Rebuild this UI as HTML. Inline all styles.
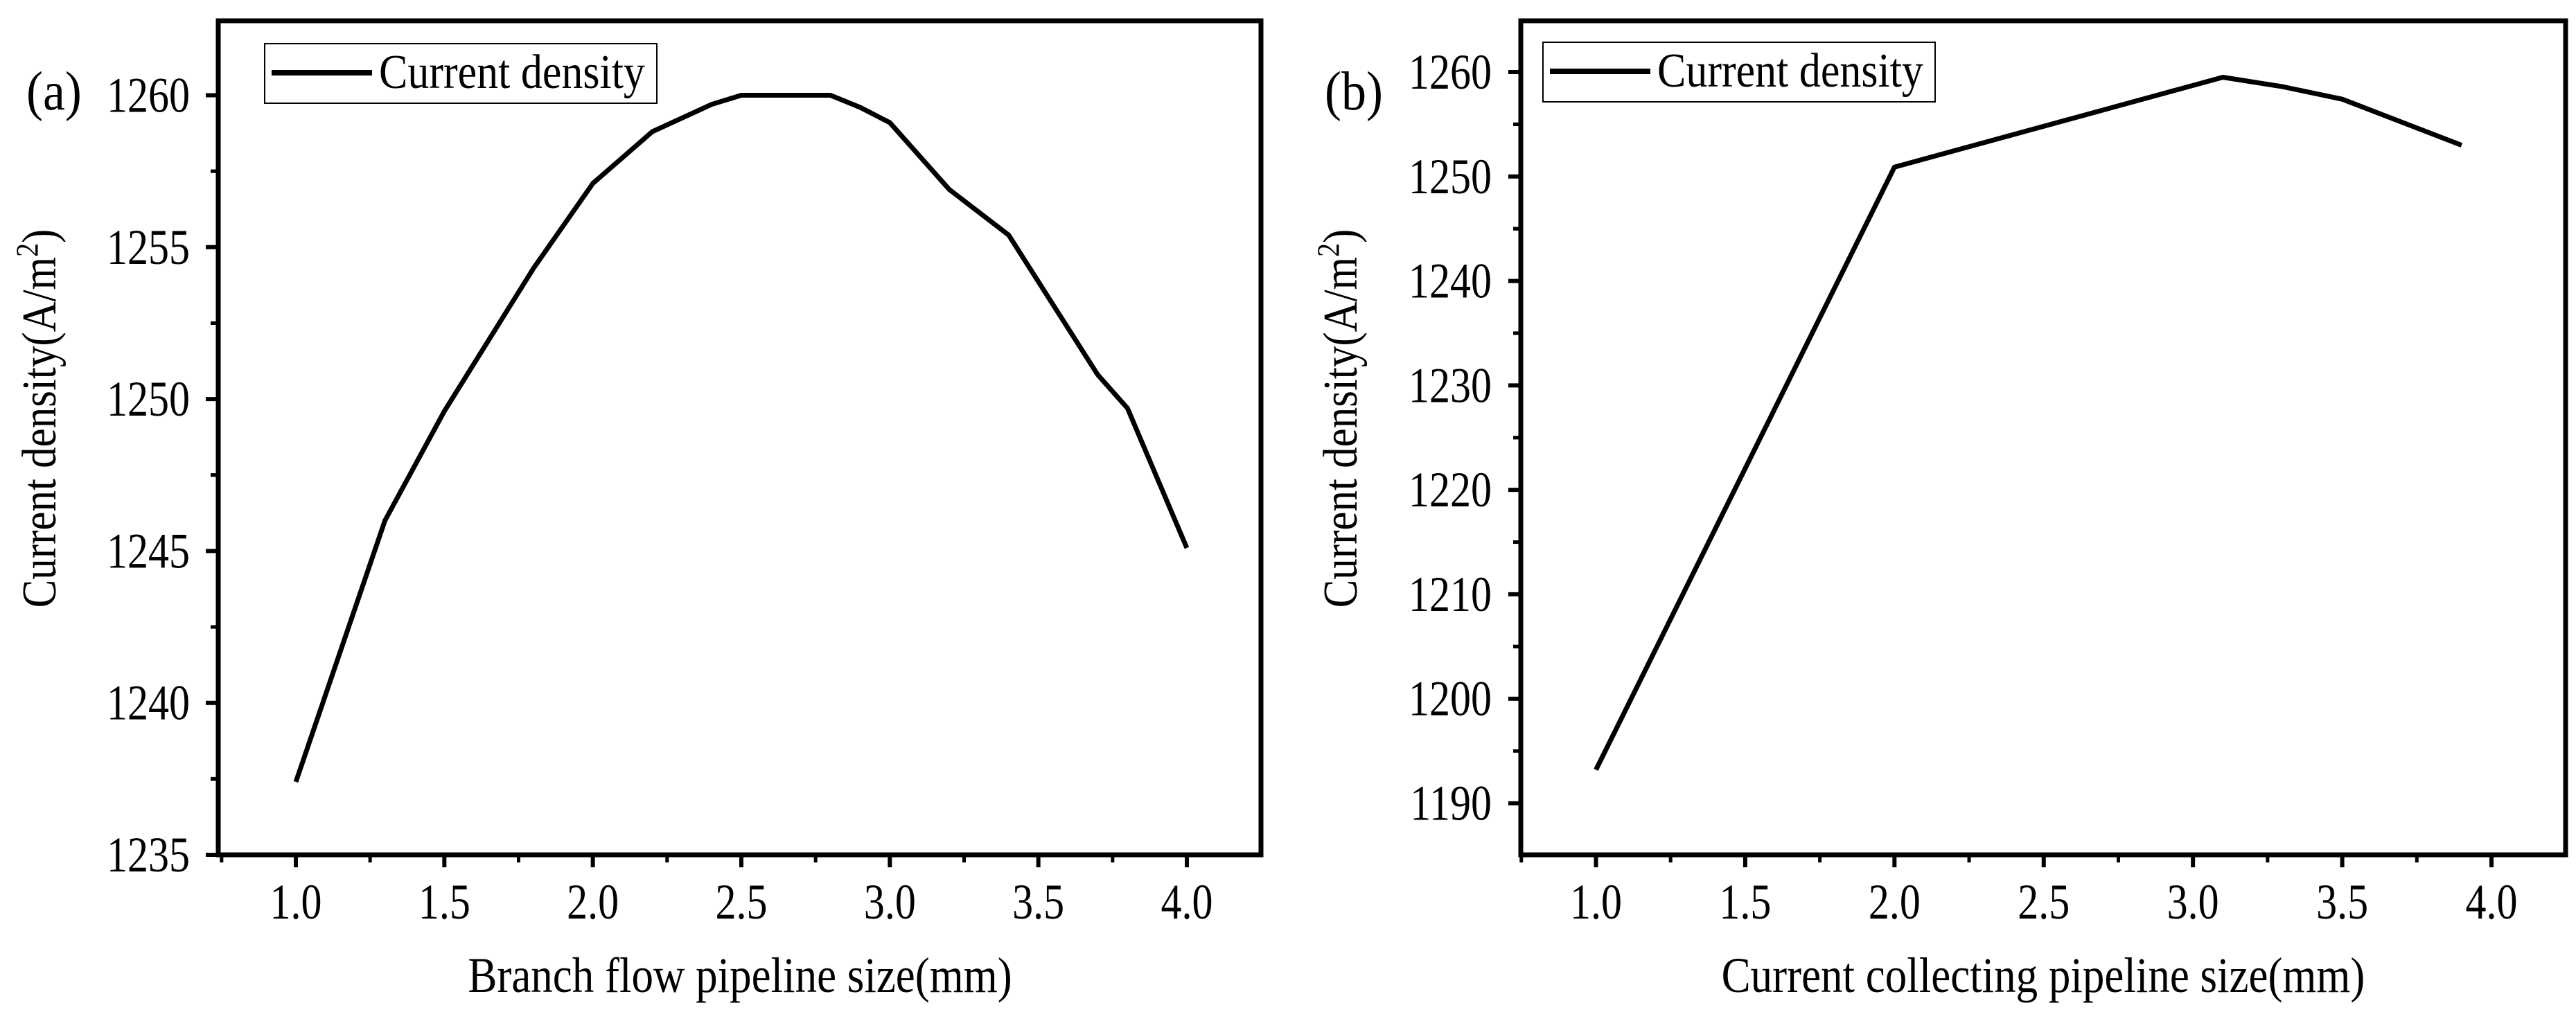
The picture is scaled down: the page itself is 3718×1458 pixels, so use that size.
<!DOCTYPE html>
<html><head><meta charset="utf-8">
<style>
html,body{margin:0;padding:0;background:#fff;}
svg{display:block;}
text{font-family:"Liberation Serif",serif;fill:#000;}
</style></head>
<body>
<svg id="fig" width="3718" height="1458" viewBox="0 0 3718 1458" xmlns="http://www.w3.org/2000/svg"></svg>
<script>
const aCategories = [1.0,1.3,1.5,1.8,2.0,2.2,2.4,2.5,2.8,2.9,3.0,3.2,3.4,3.7,3.8,4.0];
const aValues = [1237.4,1246.0,1249.6,1254.3,1257.1,1258.8,1259.7,1260.0,1260.0,1259.6,1259.1,1256.9,1255.4,1250.8,1249.7,1245.1];
const aYTicks = [1235,1240,1245,1250,1255,1260];
const bCategories = [1.0,2.0,3.1,3.3,3.5,3.9];
const bValues = [1193.2,1250.9,1259.5,1258.6,1257.4,1253.0];
const bYTicks = [1190,1200,1210,1220,1230,1240,1250,1260];
const xTicks = [1.0,1.5,2.0,2.5,3.0,3.5,4.0];

const NS = "http://www.w3.org/2000/svg";
const svg = document.getElementById('fig');
function mk(tag, attrs, parent){
  const e = document.createElementNS(NS, tag);
  for (const k in attrs) e.setAttribute(k, attrs[k]);
  (parent||svg).appendChild(e);
  return e;
}
function txt(parent, x, y, size, sy, anchor, extra){
  const a = {x:0, y:0, 'font-size':size, 'text-anchor':anchor, transform:`translate(${x},${y}) ${extra||''} scale(1,${sy})`};
  return mk('text', a, parent);
}

function panel(cfg){
  const g = mk('g', {});
  
  
  const xs = v => cfg.x1px + (v - 1.0) / 3.0 * (cfg.x4px - cfg.x1px);
  const ys = v => cfg.yTopTickPx + (cfg.yTopTick - v) / (cfg.yTopTick - cfg.yBotTick) * (cfg.yBotTickPx - cfg.yTopTickPx);
  let d = '';
  cfg.cats.forEach((c,i)=>{ d += (i?'L':'M') + xs(c).toFixed(1) + ' ' + ys(cfg.vals[i]).toFixed(1) + ' '; });
  const line = mk('path', {d:d, fill:'none', stroke:'#000', 'stroke-width':7, 'stroke-linejoin':'round'}, g);
  
  
  const fr = mk('rect', {x:cfg.L, y:cfg.T, width:cfg.R-cfg.L, height:cfg.B-cfg.T, fill:'none', stroke:'#000', 'stroke-width':7}, g);
  
  
  const half = (cfg.x4px - cfg.x1px) / 12;
  xTicks.forEach((t,i)=>{
    const x = xs(t);
    mk('line', {x1:x, x2:x, y1:cfg.B, y2:cfg.B+18, stroke:'#000','stroke-width':6}, g);
    const lab = txt(g, x, cfg.B+92, 60, 1.2, 'middle');
    lab.textContent = t.toFixed(1);
    
    
    const mx = x - half;
    if (mx > cfg.L) mk('line', {x1:mx, x2:mx, y1:cfg.B, y2:cfg.B+11, stroke:'#000','stroke-width':5}, g);
  });
  const mx2 = cfg.x4px + half; if (mx2 < cfg.R) mk('line', {x1:mx2, x2:mx2, y1:cfg.B, y2:cfg.B+11, stroke:'#000','stroke-width':5}, g);
  const step = cfg.yTicks[1]-cfg.yTicks[0];
  cfg.yTicks.forEach(t=>{
    const y = ys(t);
    mk('line', {x1:cfg.L-18, x2:cfg.L, y1:y, y2:y, stroke:'#000','stroke-width':6}, g);
    const lab = txt(g, cfg.labelRight, y+24, 60, 1.2, 'end');
    lab.textContent = t;
    
    
    [t - step/2, t + step/2].forEach(m=>{
      const my = ys(m);
      if (my > cfg.T + 4 && my < cfg.B - 4) mk('line', {x1:cfg.L-11, x2:cfg.L, y1:my, y2:my, stroke:'#000','stroke-width':5}, g);
    });
  });
  const xt = txt(g, cfg.xTitleX, 1432, 63, 1.15, 'middle');
  xt.textContent = cfg.xTitle;
  
  
  const yt = mk('text', {x:0, y:0, 'font-size':61, 'text-anchor':'middle', transform:`translate(${cfg.yTitleX},604) rotate(-90) scale(1,1.15)`}, g);
  yt.innerHTML = 'Current density(A/m<tspan dy="-22" font-size="40">2</tspan><tspan dy="22">)</tspan>';
  
  
  const pl = txt(g, cfg.tagX, 158, 72, 1.1, 'start');
  pl.textContent = cfg.tag;
  
  
  const lg = mk('g', {}, g);
  
  
  mk('rect', {x:cfg.lgX, y:cfg.lgY, width:566, height:86, fill:'#fff', stroke:'#000','stroke-width':2}, lg);
  mk('line', {x1:cfg.lgX+10, x2:cfg.lgX+155, y1:cfg.lgY+42, y2:cfg.lgY+42, stroke:'#000','stroke-width':8}, lg);
  const lt = txt(lg, cfg.lgX+165, cfg.lgY+64, 62, 1.12, 'start');
  lt.textContent = 'Current density';
  
  
}

panel({name:'panel-a', L:315, R:1820, T:30, B:1234, x1px:427, x4px:1713,
  yTopTick:1260, yBotTick:1235, yTopTickPx:137.5, yBotTickPx:1234,
  cats:aCategories, vals:aValues, yTicks:aYTicks, labelRight:274,
  xTitle:'Branch flow pipeline size(mm)', xTitleX:1068, yTitleX:80, tag:'(a)', tagX:38,
  lgX:382, lgY:63});
panel({name:'panel-b', L:2195, R:3703, T:30, B:1234, x1px:2303.5, x4px:3596,
  yTopTick:1260, yBotTick:1190, yTopTickPx:104, yBotTickPx:1159.5,
  cats:bCategories, vals:bValues, yTicks:bYTicks, labelRight:2153,
  xTitle:'Current collecting pipeline size(mm)', xTitleX:2949, yTitleX:1958, tag:'(b)', tagX:1912,
  lgX:2227, lgY:61});
</script>
</body></html>
